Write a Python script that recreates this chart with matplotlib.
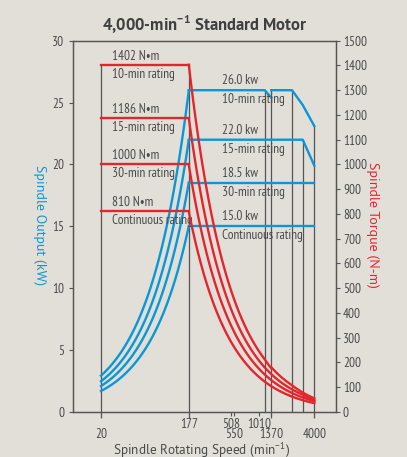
import numpy as np
import matplotlib.pyplot as plt
from matplotlib.ticker import FixedLocator, FixedFormatter

# ratings (left block: constant torque, right block: constant output)
torque_levels = [1402, 1186, 1000, 810]          # N·m
power_levels = [26.0, 22.0, 18.5, 15.0]          # kW
rating_names = ["10-min rating", "15-min rating", "30-min rating", "Continuous rating"]
power_texts = ["26.0 kw", "22.0 kw", "18.5 kw", "15.0 kw"]

speed_min = 20
speed_base = 177

# output curves above base speed, as (speed, kW) break points
out_10min_a = ([177, 1170, 1370], [26.0, 26.0, 25.4])
out_10min_b = ([1370, 2300, 3000, 4000], [26.0, 26.0, 24.8, 23.1])
out_15min = ([177, 3000, 4000], [22.0, 22.0, 19.9])
out_30min = ([177, 4000], [18.5, 18.5])
out_cont = ([177, 4000], [15.0, 15.0])
output_curves = [[out_10min_a, out_10min_b], [out_15min], [out_30min], [out_cont]]

# vertical guide lines: (speed, top in kW, extends below axis)
guides = [(20, 28.04, True), (177, 28.04, True), (1170, 26.0, False), (1370, 26.0, True),
          (2300, 26.0, False), (3000, 22.0, False), (4000, 23.1, True)]

row1_ticks = [177, 508, 1010]
row2_ticks = [20, 550, 1370, 4000]

BG = "#e2dfd9"
BLUE = "#0b97d5"
RED = "#e3262e"
GREY = "#555555"
TXT = "#4a4a4a"
NARROW = ["PT Sans Narrow", "DejaVu Sans"]
WIDE = ["PT Sans", "DejaVu Sans"]

K = 9549.0  # N·m * min^-1 / kW

plt.rcParams["font.family"] = NARROW
plt.rcParams["mathtext.fontset"] = "custom"
plt.rcParams["mathtext.rm"] = "PT Sans"
plt.rcParams["mathtext.bf"] = "PT Sans:bold"

fig = plt.figure(figsize=(4.07, 4.57), dpi=100, facecolor=BG)
ax = fig.add_axes([72.7 / 407, 1 - 412 / 457, 263 / 407, 371.3 / 457])
ax.set_facecolor(BG)
ax2 = ax.twinx()

ax.set_xscale("log")
ax.set_xlim(9.9, 6800)
ax.set_ylim(0, 30)
ax2.set_ylim(0, 1500)

# guide lines
for sp, top, longer in guides:
    ax.vlines(sp, -0.49 if longer else 0, top, color=GREY, lw=0.9, clip_on=False, zorder=1)

# curves
n_low = np.geomspace(speed_min, speed_base, 60)
for T, P, segs in zip(torque_levels, power_levels, output_curves):
    ax.plot(n_low, T * n_low / K, color=BLUE, lw=1.7, zorder=3)
    ax2.plot([speed_min, speed_base], [T, T], color=RED, lw=1.7, zorder=3)
    for sp, pw in segs:
        n = np.geomspace(sp[0], sp[-1], 120)
        p = np.interp(np.log10(n), np.log10(sp), pw)
        ax.plot(n, p, color=BLUE, lw=1.7, zorder=3)
        ax2.plot(n, K * p / n, color=RED, lw=1.7, zorder=3)

# labels
for T, P, name, ptxt in zip(torque_levels, power_levels, rating_names, power_texts):
    y = T / 50.0
    ax.annotate(f"{T} N\u2022m", (26.3, y), xytext=(0, 2), textcoords="offset pixels",
                va="bottom", ha="left", fontsize=9.5, color=TXT, zorder=5)
    ax.annotate(name, (26.3, y), xytext=(0, -3), textcoords="offset pixels",
                va="top", ha="left", fontsize=9.5, color=TXT, zorder=5)
    ax.annotate(ptxt, (407, P), xytext=(0, 3), textcoords="offset pixels",
                va="bottom", ha="left", fontsize=9.5, color=TXT, zorder=5)
    ax.annotate(name, (407, P), xytext=(0, -3), textcoords="offset pixels",
                va="top", ha="left", fontsize=9.5, color=TXT, zorder=5)

# ticks: two rows of speed labels (major = upper row, minor = lower row)
ax.xaxis.set_major_locator(FixedLocator(row1_ticks))
ax.xaxis.set_major_formatter(FixedFormatter([str(v) for v in row1_ticks]))
ax.xaxis.set_minor_locator(FixedLocator(row2_ticks))
ax.xaxis.set_minor_formatter(FixedFormatter([str(v) for v in row2_ticks]))
ax.set_yticks(np.arange(0, 31, 5))
ax2.set_yticks(np.arange(0, 1501, 100))
for a in (ax, ax2):
    a.tick_params(direction="out", length=3.2, width=0.8, color=GREY,
                  labelsize=9.5, labelcolor=TXT, pad=2)
    for s in a.spines.values():
        s.set_color(GREY)
        s.set_linewidth(0.9)
ax.tick_params(axis="x", which="major", pad=1, length=3)
ax.tick_params(axis="x", which="minor", pad=8.5, length=3, width=0.8, color=GREY,
               labelsize=9.5, labelcolor=TXT, direction="out")
ax.tick_params(axis="y", pad=3)

ax.set_xlabel("Spindle Rotating Speed (min$^{-1}$)", fontsize=9.5, color=TXT, family=WIDE)
ax.xaxis.set_label_coords(0.4916, -0.1035)
ax.xaxis.label.set_va("center")
ax.set_ylabel("Spindle Output (kW)", fontsize=10, color=BLUE, rotation=-90, va="center", family=WIDE)
ax.yaxis.set_label_coords(-0.128, 0.504)
ax2.set_ylabel("Spindle Torque (N-m)", fontsize=10, color=RED, rotation=-90, va="center", family=WIDE)
ax2.yaxis.set_label_coords(1.141, 0.504)

fig.text(205 / 407, 1 - 24 / 457, r"4,000-min$^{\mathbf{-1}}$ Standard Motor", ha="center", va="center",
         fontsize=12, fontweight="bold", color="#3f3f3f", family=["PT Sans", "DejaVu Sans"])

fig.savefig("out.png", dpi=100, facecolor=BG)
